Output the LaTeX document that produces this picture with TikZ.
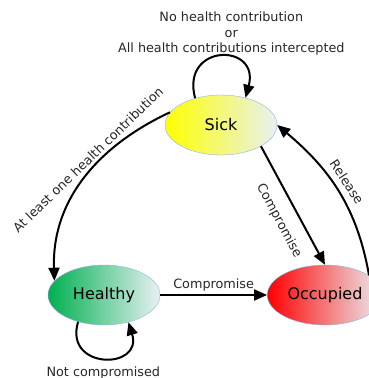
\documentclass[tikz,border=0pt]{standalone}
\usepackage{fontspec}
\setmainfont{DejaVu Sans}
\usetikzlibrary{shapes.geometric,arrows.meta}

\definecolor{fadeend}{RGB}{232,240,243}
\definecolor{healthgreen}{RGB}{0,176,80}
\definecolor{rimblue}{RGB}{142,180,227}

\begin{document}
\begin{tikzpicture}[x=1pt,y=1pt]

      \clip (0,0) rectangle (369,378);

      \begin{scope}[every node/.style={ellipse,draw=rimblue,minimum width=112pt,minimum height=60pt,
                                       font=\fontsize{16}{19}\selectfont}]
        \node[left color=yellow,right color=fadeend] (sick) at (221,253) {Sick};
        \node[left color=healthgreen,right color=fadeend] (healthy) at (104,83) {Healthy};
        \node[left color=red,right color=fadeend] (occupied) at (325,83) {Occupied};
      \end{scope}

      \begin{scope}[every node/.style={font=\fontsize{12.8}{15.5}\selectfont,text=black!85}]

        \begin{scope}[every edge/.style={draw,line width=2pt,-{Triangle[length=13pt,width=11pt]}}]
          \path (sick.134) edge[out=105,in=75,looseness=2.9]
                node[above,xshift=11pt,yshift=-3pt,align=center] {No health contribution\\or\\All health contributions intercepted} (sick.48);
          \path (healthy.226) edge[out=253,in=287,looseness=2.55]
                node[below,yshift=-4pt] {Not compromised} (healthy.312);
          \path (sick.166) edge[out=205,in=92]
                node[pos=.42,rotate=44,above] {At least one health contribution} (healthy.164);
          \path (healthy) edge node[above] {Compromise} (occupied);
          \path (sick.-28) edge node[pos=.55,sloped,below=9pt] {Compromise} (occupied.north);
          \path (occupied.24) edge[out=100,in=-40] node[pos=.52,sloped,above=3pt] {Release} (sick.east);
        \end{scope}
      \end{scope}

    \end{tikzpicture}
\end{document}
